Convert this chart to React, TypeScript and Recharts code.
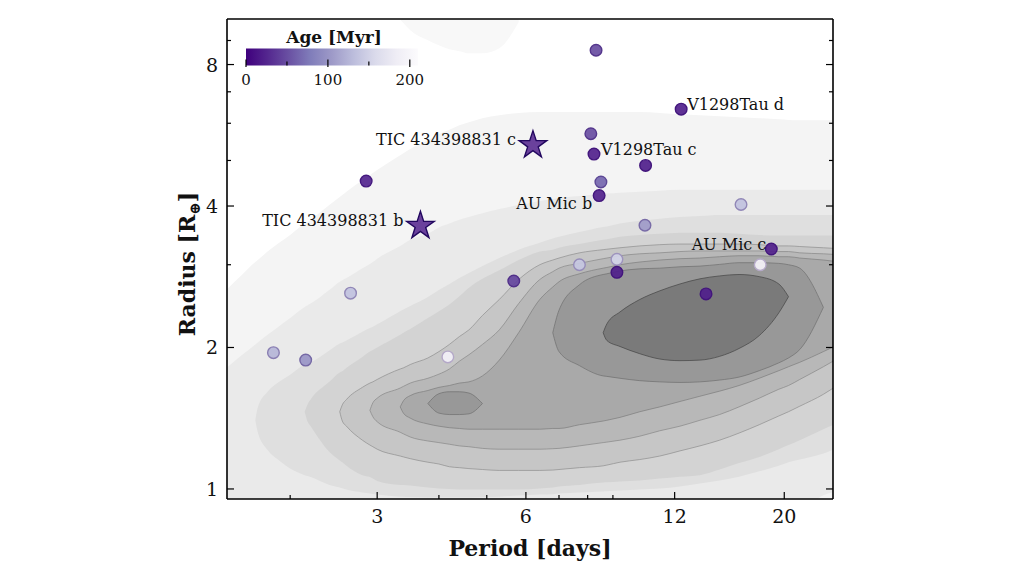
import React from "react";
import { Area, ComposedChart, Scatter, XAxis, YAxis } from "recharts";

const FONT = "'DejaVu Serif', 'Liberation Serif', serif";

// --- axes ---
const X_DOMAIN = [1.49, 25.1];
const Y_DOMAIN = [0.952, 10.0];
const X_TICKS = [2, 3, 4, 5, 6, 7, 8, 9, 12, 20];
const X_MAJOR = [3, 6, 12, 20];
const Y_TICKS = [1, 2, 3, 4, 5, 6, 7, 8, 9];
const Y_MAJOR = [1, 2, 4, 8];

// --- young planets (period [d], radius [R_earth], age [Myr]) ---
const PLANET_NAMES = ["", "V1298Tau d", "", "V1298Tau c", "", "", "", "AU Mic b", "", "", "AU Mic c", "", "", "", "", "", "", "", "", "", ""];
const PLANET_PERIODS = [8.32, 12.37, 8.12, 8.24, 10.48, 2.85, 8.51, 8.44, 16.35, 10.45, 18.83, 7.7, 9.17, 9.17, 17.88, 5.67, 13.89, 2.65, 1.85, 2.15, 4.17];
const PLANET_RADII = [8.58, 6.43, 5.7, 5.16, 4.88, 4.52, 4.5, 4.21, 4.03, 3.64, 3.24, 3.0, 3.08, 2.89, 3.0, 2.77, 2.6, 2.61, 1.95, 1.88, 1.91];
const PLANET_AGES = [50, 22, 50, 22, 20, 25, 65, 22, 135, 105, 22, 140, 150, 20, 195, 45, 20, 135, 125, 100, 190];

const TIC_NAMES = ["TIC 434398831 b", "TIC 434398831 c"];
const TIC_PERIODS = [3.67, 6.2];
const TIC_RADII = [3.63, 5.39];
const TIC_AGES = [22, 22];

// --- colour bar ---
const AGE_MAX = 210;
const AGE_TICKS = [0, 50, 100, 150, 200];
const AGE_LABELS = [0, 100, 200];
const PURPLES = ["#fcfbfd", "#efedf5", "#dadaeb", "#bcbddc", "#9e9ac8", "#807dba", "#6a51a3", "#54278f", "#3f007d"];

// --- KDE contour bands of the field population: radius range per period ---
const PERIOD_GRID = [1.45, 1.6, 1.7, 1.72, 1.8, 1.9, 2.0, 2.14, 2.17, 2.2, 2.4, 2.52, 2.55, 2.6, 2.8, 2.9, 2.94, 3.0, 3.34, 3.39, 3.5, 3.8, 4.0, 4.2, 4.4, 4.6, 4.9, 5.3, 5.8, 6.4, 6.8, 7.0, 7.7, 8.6, 8.75, 9.3, 10.2, 11.2, 12.3, 13.5, 14.8, 16.2, 17.8, 19.5, 20.4, 21.5, 24.0, 26.0];

// each band starts at a grid index and runs over consecutive grid periods
const band = (start: number, values: (number | null)[]) =>
  PERIOD_GRID.map((_p, i) => (i >= start && i - start < values.length ? values[i - start] : null));

const L1_LO = band(0, [0.9, 0.9, 0.9, 0.9, 0.9, 0.9, 0.9, 0.9, 0.9, 0.9, 0.9, 0.9, 0.9, 0.9, 0.9, 0.9, 0.9, 0.9, 0.9, 0.9, 0.9, 0.9, 0.9, 0.9, 0.9, 0.9, 0.9, 0.9, 0.9, 0.9, 0.9, 0.9, 0.9, 0.9, 0.9, 0.9, 0.9, 0.9, 0.9, 0.9, 0.9, 0.9, 0.9, 0.9, 0.9, 0.9, 0.9, 0.9]);
const L1_HI = band(0, [2.59, 2.86, 3.04, 3.07, 3.2, 3.34, 3.47, 3.67, 3.7, 3.74, 4.02, 4.18, 4.22, 4.29, 4.54, 4.65, 4.7, 4.77, 5.13, 5.18, 5.29, 5.52, 5.69, 5.81, 5.94, 6.03, 6.15, 6.24, 6.31, 6.34, 6.34, 6.34, 6.34, 6.34, 6.34, 6.34, 6.34, 6.31, 6.27, 6.24, 6.21, 6.18, 6.15, 6.12, 6.1, 6.09, 6.09, 6.09]);

const L1B_LO = band(18, [9.98, 9.8, 9.46, 9.01, 8.79, 8.62, 8.54, 8.45, 8.45, 8.66, 9.84]);
const L1B_HI = band(18, [11, 11, 11, 11, 11, 11, 11, 11, 11, 11, 11]);

const L2_LO = band(0, [0.9, 0.9, 0.9, 0.9, 0.9, 0.9, 0.9, 0.9, 0.9, 0.9, 0.9, 0.9, 0.9, 0.9, 0.9, 0.9, 0.9, 0.9, 0.9, 0.9, 0.9, 0.9, 0.9, 0.9, 0.9, 0.9, 0.9, 0.9, 0.9, 0.9, 0.9, 0.9, 0.9, 0.9, 0.9, 0.9, 0.9, 0.9, 0.9, 0.9, 0.9, 0.9, 0.9, 0.9, 0.9, 0.9, 0.97, 0.99]);
const L2_HI = band(0, [1.77, 1.93, 2.03, 2.05, 2.13, 2.22, 2.31, 2.44, 2.46, 2.48, 2.65, 2.76, 2.78, 2.81, 2.95, 3.01, 3.04, 3.09, 3.29, 3.32, 3.39, 3.49, 3.6, 3.67, 3.74, 3.79, 3.86, 3.94, 4.02, 4.1, 4.14, 4.16, 4.2, 4.25, 4.254, 4.27, 4.29, 4.31, 4.33, 4.33, 4.33, 4.33, 4.33, 4.33, 4.33, 4.33, 4.33, 4.33]);

const L3_LO = band(2, [1.4, 1.32, 1.21, 1.15, 1.105, 1.07, 1.065, 1.06, 1.02, 1.007, 1.003, 0.997, 0.983, 0.978, 0.976, 0.973, 0.963, 0.962, 0.961, 0.959, 0.959, 0.959, 0.959, 0.959, 0.961, 0.963, 0.968, 0.973, 0.975, 0.978, 0.983, 0.988, 0.989, 0.992, 0.997, 1.002, 1.012, 1.027, 1.042, 1.062, 1.09, 1.12, 1.14, 1.155, 1.19, 1.23]);
const L3_HI = band(2, [1.4, 1.49, 1.61, 1.69, 1.75, 1.84, 1.85, 1.86, 1.97, 2.04, 2.05, 2.07, 2.16, 2.2, 2.215, 2.24, 2.39, 2.41, 2.45, 2.56, 2.65, 2.73, 2.81, 2.88, 2.98, 3.1, 3.23, 3.34, 3.41, 3.44, 3.52, 3.61, 3.62, 3.67, 3.72, 3.76, 3.79, 3.81, 3.83, 3.83, 3.83, 3.83, 3.83, 3.83, 3.83, 3.83]);

const L4_LO = band(7, [1.46, 1.39, 1.36, 1.2, 1.15, 1.14, 1.12, 1.07, 1.06, 1.052, 1.04, 1.02, 1.019, 1.017, 1.007, 1.002, 1.0, 0.997, 0.997, 0.997, 0.997, 0.997, 1.002, 1.007, 1.012, 1.02, 1.032, 1.033, 1.037, 1.042, 1.052, 1.062, 1.07, 1.1, 1.135, 1.17, 1.215, 1.24, 1.27, 1.34, 1.39]);
const L4_HI = band(7, [1.46, 1.515, 1.55, 1.69, 1.77, 1.78, 1.81, 1.91, 1.96, 1.975, 2.0, 2.13, 2.15, 2.19, 2.31, 2.39, 2.47, 2.57, 2.68, 2.8, 2.92, 3.07, 3.2, 3.23, 3.26, 3.32, 3.39, 3.4, 3.44, 3.47, 3.49, 3.51, 3.51, 3.51, 3.49, 3.47, 3.46, 3.46, 3.46, 3.46, 3.46]);

const L5_LO = band(11, [1.46, 1.395, 1.36, 1.27, 1.24, 1.23, 1.215, 1.175, 1.17, 1.16, 1.14, 1.13, 1.115, 1.11, 1.105, 1.1, 1.095, 1.095, 1.095, 1.097, 1.1, 1.11, 1.12, 1.124, 1.14, 1.155, 1.175, 1.205, 1.235, 1.27, 1.315, 1.37, 1.43, 1.46, 1.5, 1.59, 1.68]);
const L5_HI = band(11, [1.46, 1.51, 1.55, 1.645, 1.68, 1.69, 1.71, 1.8, 1.81, 1.84, 1.9, 1.96, 2.03, 2.11, 2.18, 2.34, 2.53, 2.79, 3.0, 3.07, 3.1, 3.18, 3.23, 3.237, 3.26, 3.29, 3.31, 3.32, 3.32, 3.32, 3.32, 3.31, 3.29, 3.29, 3.28, 3.26, 3.245]);

const L6_LO = band(15, [1.47, 1.425, 1.39, 1.32, 1.31, 1.29, 1.265, 1.255, 1.245, 1.235, 1.23, 1.22, 1.215, 1.215, 1.215, 1.218, 1.22, 1.235, 1.255, 1.258, 1.27, 1.295, 1.33, 1.36, 1.4, 1.44, 1.495, 1.56, 1.63, 1.66, 1.71, 1.82, 1.91]);
const L6_HI = band(15, [1.47, 1.525, 1.56, 1.64, 1.653, 1.68, 1.72, 1.755, 1.8, 1.87, 1.93, 2.03, 2.18, 2.48, 2.79, 2.9, 2.95, 3.02, 3.09, 3.1, 3.135, 3.165, 3.18, 3.2, 3.21, 3.21, 3.21, 3.21, 3.2, 3.2, 3.18, 3.165, 3.15]);

const L7_LO = band(18, [1.495, 1.45, 1.415, 1.375, 1.36, 1.35, 1.345, 1.34, 1.34, 1.34, 1.34, 1.34, 1.345, 1.345, 1.37, 1.395, 1.4, 1.42, 1.46, 1.495, 1.535, 1.575, 1.615, 1.66, 1.72, 1.785, 1.82, 1.86, 1.96, 2.04]);
const L7_HI = band(18, [1.495, 1.54, 1.58, 1.62, 1.645, 1.66, 1.68, 1.69, 1.74, 1.88, 2.15, 2.53, 2.69, 2.76, 2.87, 2.95, 2.96, 3.0, 3.04, 3.07, 3.09, 3.1, 3.12, 3.135, 3.135, 3.12, 3.12, 3.1, 3.07, 3.04]);

const L8_LO = band(21, [1.52, 1.45, 1.44, 1.44, 1.445, 1.52, null, null, null, 2.15, 1.96, 1.83, 1.74, 1.736, 1.72, 1.7, 1.69, 1.685, 1.69, 1.705, 1.73, 1.785, 1.855, 1.9, 1.98, 2.435]);
const L8_HI = band(21, [1.52, 1.595, 1.61, 1.61, 1.6, 1.52, null, null, null, 2.15, 2.4, 2.72, 2.86, 2.87, 2.91, 2.94, 2.95, 2.97, 2.98, 3.005, 3.03, 3.03, 3.02, 3.0, 2.95, 2.435]);

const L9_LO = band(33, [2.15, 2.07, 2.01, 1.94, 1.89, 1.875, 1.88, 1.915, 1.99, 2.12, 2.37, 2.565]);
const L9_HI = band(33, [2.15, 2.245, 2.38, 2.53, 2.64, 2.73, 2.8, 2.84, 2.86, 2.83, 2.73, 2.565]);

const CONTOURS = [
  { key: "l1", lo: L1_LO, hi: L1_HI, fill: "#f4f4f4" },
  { key: "l1b", lo: L1B_LO, hi: L1B_HI, fill: "#f8f8f8" },
  { key: "l2", lo: L2_LO, hi: L2_HI, fill: "#eaeaea" },
  { key: "l3", lo: L3_LO, hi: L3_HI, fill: "#dfdfdf" },
  { key: "l4", lo: L4_LO, hi: L4_HI, fill: "#d3d3d3" },
  { key: "l5", lo: L5_LO, hi: L5_HI, fill: "#c6c6c6", line: "#8e8e8e" },
  { key: "l6", lo: L6_LO, hi: L6_HI, fill: "#b8b8b8", line: "#868686" },
  { key: "l7", lo: L7_LO, hi: L7_HI, fill: "#a9a9a9", line: "#7c7c7c" },
  { key: "l8", lo: L8_LO, hi: L8_HI, fill: "#989898", line: "#6e6e6e" },
  { key: "l9", lo: L9_LO, hi: L9_HI, fill: "#7a7a7a", line: "#444444" },
];

const LABEL_OFFSETS: Record<string, { dx: number; dy: number; anchor: string }> = {
  "V1298Tau d": { dx: 6, dy: 1, anchor: "start" },
  "V1298Tau c": { dx: 7, dy: 1, anchor: "start" },
  "AU Mic b": { dx: -7, dy: 13, anchor: "end" },
  "AU Mic c": { dx: -5, dy: 1, anchor: "end" },
  "TIC 434398831 b": { dx: -17, dy: 0, anchor: "end" },
  "TIC 434398831 c": { dx: -17, dy: 0, anchor: "end" },
};

const contourRows = PERIOD_GRID.map((p, i) => {
  const row: Record<string, unknown> = { p };
  CONTOURS.forEach((c) => {
    row[c.key] = c.lo[i] != null && c.hi[i] != null ? [c.lo[i], c.hi[i]] : null;
  });
  return row;
});

const planets = PLANET_PERIODS.map((p, i) => ({
  p,
  r: PLANET_RADII[i],
  age: PLANET_AGES[i],
  name: PLANET_NAMES[i],
}));

const tics = TIC_PERIODS.map((p, i) => ({
  p,
  r: TIC_RADII[i],
  age: TIC_AGES[i],
  name: TIC_NAMES[i],
}));

function hexToRgb(h: string) {
  const n = parseInt(h.slice(1), 16);
  return [(n >> 16) & 255, (n >> 8) & 255, n & 255];
}

// reversed Purples colormap; `shade` mixes toward a deep purple for the edge
function ageColor(age: number, shade = 0) {
  const s = 1 - Math.min(Math.max(age / AGE_MAX, 0), 1);
  const pos = s * (PURPLES.length - 1);
  const i = Math.min(Math.floor(pos), PURPLES.length - 2);
  const f = pos - i;
  const a = hexToRgb(PURPLES[i]);
  const b = hexToRgb(PURPLES[i + 1]);
  const deep = [36, 0, 90];
  const c = a.map((v, k) => {
    const mixed = v + (b[k] - v) * f;
    return Math.round(mixed + (deep[k] - mixed) * shade);
  });
  return `rgb(${c[0]},${c[1]},${c[2]})`;
}

function PointLabel({ cx, cy, name }: { cx: number; cy: number; name: string }) {
  const off = LABEL_OFFSETS[name];
  if (!off) {
    return null;
  }
  return (
    <text
      x={cx + off.dx}
      y={cy + off.dy}
      textAnchor={off.anchor as "start" | "end"}
      fontFamily={FONT}
      fontSize={16}
      fill="#111"
    >
      {name}
    </text>
  );
}

const renderPlanet = (props: any) => {
  const { cx, cy, payload } = props;
  return (
    <g>
      <circle
        cx={cx}
        cy={cy}
        r={5.8}
        fill={ageColor(payload.age)}
        fillOpacity={0.92}
        stroke={ageColor(payload.age, 0.3)}
        strokeWidth={1.4}
      />
      <PointLabel cx={cx} cy={cy} name={payload.name} />
    </g>
  );
};

const renderStar = (props: any) => {
  const { cx, cy, payload } = props;
  const outer = 14.5;
  const inner = outer * 0.382;
  const pts = [];
  for (let k = 0; k < 10; k++) {
    const rad = k % 2 === 0 ? outer : inner;
    const ang = -Math.PI / 2 + (k * Math.PI) / 5;
    pts.push(`${cx + rad * Math.cos(ang)},${cy + rad * Math.sin(ang)}`);
  }
  return (
    <g>
      <polygon
        points={pts.join(" ")}
        fill={ageColor(payload.age)}
        fillOpacity={0.85}
        stroke="#22075f"
        strokeWidth={1.4}
      />
      <PointLabel cx={cx} cy={cy} name={payload.name} />
    </g>
  );
};

const tickLabel = { fontFamily: FONT, fontSize: 19, fill: "#111" };

function BottomTick({ x, y, payload }: any) {
  const major = X_MAJOR.includes(payload.value);
  return (
    <g>
      <line x1={x} x2={x} y1={y} y2={y - (major ? 7 : 4)} stroke="#000" strokeWidth={1.2} />
      {major && (
        <text x={x} y={y + 24} textAnchor="middle" {...tickLabel}>
          {payload.value}
        </text>
      )}
    </g>
  );
}

function TopTick({ x, y, payload }: any) {
  const major = X_MAJOR.includes(payload.value);
  return <line x1={x} x2={x} y1={y} y2={y + (major ? 7 : 4)} stroke="#000" strokeWidth={1.2} />;
}

function LeftTick({ x, y, payload }: any) {
  const major = Y_MAJOR.includes(payload.value);
  return (
    <g>
      <line x1={x} x2={x + (major ? 7 : 4)} y1={y} y2={y} stroke="#000" strokeWidth={1.2} />
      {major && (
        <text x={x - 9} y={y + 7} textAnchor="end" {...tickLabel}>
          {payload.value}
        </text>
      )}
    </g>
  );
}

function RightTick({ x, y, payload }: any) {
  const major = Y_MAJOR.includes(payload.value);
  return <line x1={x} x2={x - (major ? 7 : 4)} y1={y} y2={y} stroke="#000" strokeWidth={1.2} />;
}

function Overlay() {
  const x0 = 238;
  const x1 = 410;
  const top = 40.5;
  const h = 17;
  const ageX = (a: number) => x0 + (a / AGE_MAX) * (x1 - x0);
  return (
    <svg
      width={1000}
      height={555}
      style={{ position: "absolute", left: 0, top: 0, pointerEvents: "none" }}
    >
      <defs>
        <linearGradient id="ageGrad" x1="0" x2="1" y1="0" y2="0">
          {PURPLES.map((_c, i) => (
            <stop
              key={i}
              offset={i / (PURPLES.length - 1)}
              stopColor={PURPLES[PURPLES.length - 1 - i]}
            />
          ))}
        </linearGradient>
      </defs>
      <text x={326} y={35} textAnchor="middle" fontFamily={FONT} fontWeight="bold" fontSize={17} fill="#111">
        Age [Myr]
      </text>
      <rect x={x0} y={top} width={x1 - x0} height={h} fill="url(#ageGrad)" />
      {AGE_TICKS.map((a) => {
        const major = AGE_LABELS.includes(a);
        return (
          <line
            key={a}
            x1={ageX(a)}
            x2={ageX(a)}
            y1={top + h + (major ? 1.5 : 0)}
            y2={top + h - (major ? 6 : 4)}
            stroke="#000"
            strokeWidth={1.2}
          />
        );
      })}
      {AGE_LABELS.map((a) => (
        <text key={a} x={ageX(a)} y={77} textAnchor="middle" fontFamily={FONT} fontSize={15} fill="#111">
          {a}
        </text>
      ))}
      {/* axis titles */}
      <text x={522} y={548} textAnchor="middle" fontFamily={FONT} fontWeight="bold" fontSize={22} fill="#111">
        Period [days]
      </text>
      <text
        x={179}
        y={256 + 8}
        transform="rotate(-90 179 256)"
        textAnchor="middle"
        fontFamily={FONT}
        fontWeight="bold"
        fontSize={22}
        fill="#111"
      >
        Radius [R
        <tspan dy={5} fontSize={15}>
          ⊕
        </tspan>
        <tspan dy={-5}>]</tspan>
      </text>
    </svg>
  );
}

export default function App() {
  const frame = { stroke: "#000", strokeWidth: 1.6 };
  return (
    <div style={{ position: "relative", width: 1000, height: 555 }}>
      <ComposedChart
        width={1000}
        height={555}
        data={contourRows}
        margin={{ top: 10, right: 174, bottom: 14, left: 159 }}
      >
        {CONTOURS.map((c) => (
          <Area
            key={c.key}
            xAxisId="b"
            yAxisId="l"
            dataKey={c.key}
            type="monotone"
            fill={c.fill}
            fillOpacity={1}
            stroke={c.line ?? "none"}
            strokeWidth={c.line ? 0.7 : 0}
            dot={false}
            activeDot={false}
            isAnimationActive={false}
          />
        ))}
        <Scatter xAxisId="b" yAxisId="l" data={planets} shape={renderPlanet} isAnimationActive={false} />
        <Scatter xAxisId="b" yAxisId="l" data={tics} shape={renderStar} isAnimationActive={false} />
        <XAxis
          xAxisId="b"
          dataKey="p"
          type="number"
          scale="log"
          domain={X_DOMAIN}
          allowDataOverflow
          ticks={X_TICKS}
          interval={0}
          tickSize={0}
          tickMargin={0}
          tickLine={false}
          axisLine={frame}
          tick={(p: any) => <BottomTick {...p} />}
          height={50}
        />
        <XAxis
          xAxisId="t"
          orientation="top"
          type="number"
          scale="log"
          domain={X_DOMAIN}
          allowDataOverflow
          ticks={X_TICKS}
          interval={0}
          tickSize={0}
          tickMargin={0}
          tickLine={false}
          axisLine={frame}
          tick={(p: any) => <TopTick {...p} />}
          height={1}
        />
        <YAxis
          yAxisId="l"
          dataKey="r"
          type="number"
          scale="log"
          domain={Y_DOMAIN}
          allowDataOverflow
          ticks={Y_TICKS}
          interval={0}
          tickSize={0}
          tickMargin={0}
          tickLine={false}
          axisLine={frame}
          tick={(p: any) => <LeftTick {...p} />}
          width={60}
        />
        <YAxis
          yAxisId="r"
          orientation="right"
          type="number"
          scale="log"
          domain={Y_DOMAIN}
          allowDataOverflow
          ticks={Y_TICKS}
          interval={0}
          tickSize={0}
          tickMargin={0}
          tickLine={false}
          axisLine={frame}
          tick={(p: any) => <RightTick {...p} />}
          width={1}
        />
      </ComposedChart>
      <Overlay />
    </div>
  );
}
